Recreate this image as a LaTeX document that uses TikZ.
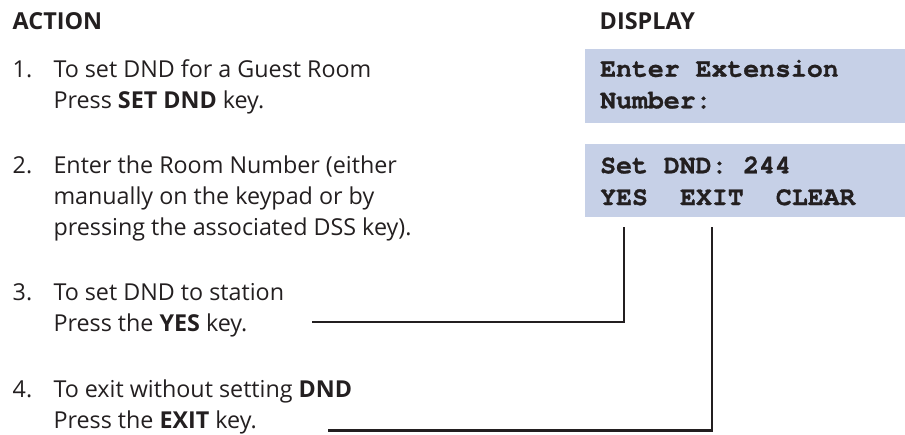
\documentclass[tikz,border=0pt]{standalone}
\usepackage{fontspec}
\setsansfont{Open Sans}
\newfontfamily\lcdfont{TeX Gyre Cursor}[BoldFeatures={FakeBold=1}]
\usetikzlibrary{positioning,calc}
\definecolor{DndInk}{HTML}{231F20}
\definecolor{DndScreen}{HTML}{C6D0E7}

\tikzset{
  colhead/.style={font=\sffamily\bfseries\fontsize{23.4}{28}\selectfont,
    text=DndInk, anchor=base west, inner sep=0pt},
  steptext/.style={font=\sffamily\fontsize{23.3}{28}\selectfont,
    text=DndInk, anchor=base west, inner sep=0pt},
  screen/.style={fill=DndScreen, anchor=north west, inner sep=0pt,
    minimum width=320pt},
  lcd/.style={font=\lcdfont\bfseries\fontsize{26.5}{30}\selectfont,
    text=DndInk, anchor=base west, inner sep=0pt},
  lead/.style={draw=DndInk, line width=2.2pt},
}

\begin{document}
\begin{tikzpicture}[x=1pt,y=-1pt]
  \useasboundingbox (0,0) rectangle (905,434);

  % column heads
  \node[colhead] (action) at (12.5,29) {ACTION};
  \node[colhead] (display) at (599.5,29) {DISPLAY};

  % steps
  \node[steptext] (num1) at (12.5,77) {1.};
  \node[steptext] (step1a) at (53.3,77) {To set DND for a Guest Room};
  \node[steptext] (step1b) at (53.3,108) {Press \textbf{SET DND} key.};

  \node[steptext] (num2) at (12.5,173) {2.};
  \node[steptext] (step2a) at (53.3,173) {Enter the Room Number (either};
  \node[steptext] (step2b) at (53.3,204) {manually on the keypad or by};
  \node[steptext] (step2c) at (53.3,235) {pressing the associated DSS key).};

  \node[steptext] (num3) at (12.5,300.5) {3.};
  \node[steptext] (step3a) at (53.3,300.5) {To set DND to station};
  \node[steptext] (step3b) at (53.3,331.5) {Press the \textbf{YES} key.};

  \node[steptext] (num4) at (12.5,397) {4.};
  \node[steptext] (step4a) at (53.3,397) {To exit without setting \textbf{DND}};
  \node[steptext] (step4b) at (53.3,428) {Press the \textbf{EXIT} key.};

  % display screens
  \node[screen, minimum height=74.4pt] (screen1) at (585,48.3) {};
  \node[screen, minimum height=73.4pt] (screen2) at (585,143.3) {};

  \node[lcd] (ext) at (600,76.7) {Enter Extension};
  \node[lcd] (number) at (600,108.3) {Number:};
  \node[lcd] (setdnd) at (600,173.3) {Set DND: 244};
  \node[lcd] (yes) at (600,205) {YES};
  \node[lcd, base right=31.8pt of yes] (exit) {EXIT};
  \node[lcd, base right=31.8pt of exit] (clear) {CLEAR};

  % leader lines to the soft keys
  \coordinate (yesend) at (312,322);
  \coordinate (exitend) at (328,430.5);
  \draw[lead] ([yshift=-10pt]screen2.south -| yes) |- (yesend);
  \draw[lead] ([yshift=-10pt]screen2.south -| exit) |- (exitend);
\end{tikzpicture}
\end{document}
